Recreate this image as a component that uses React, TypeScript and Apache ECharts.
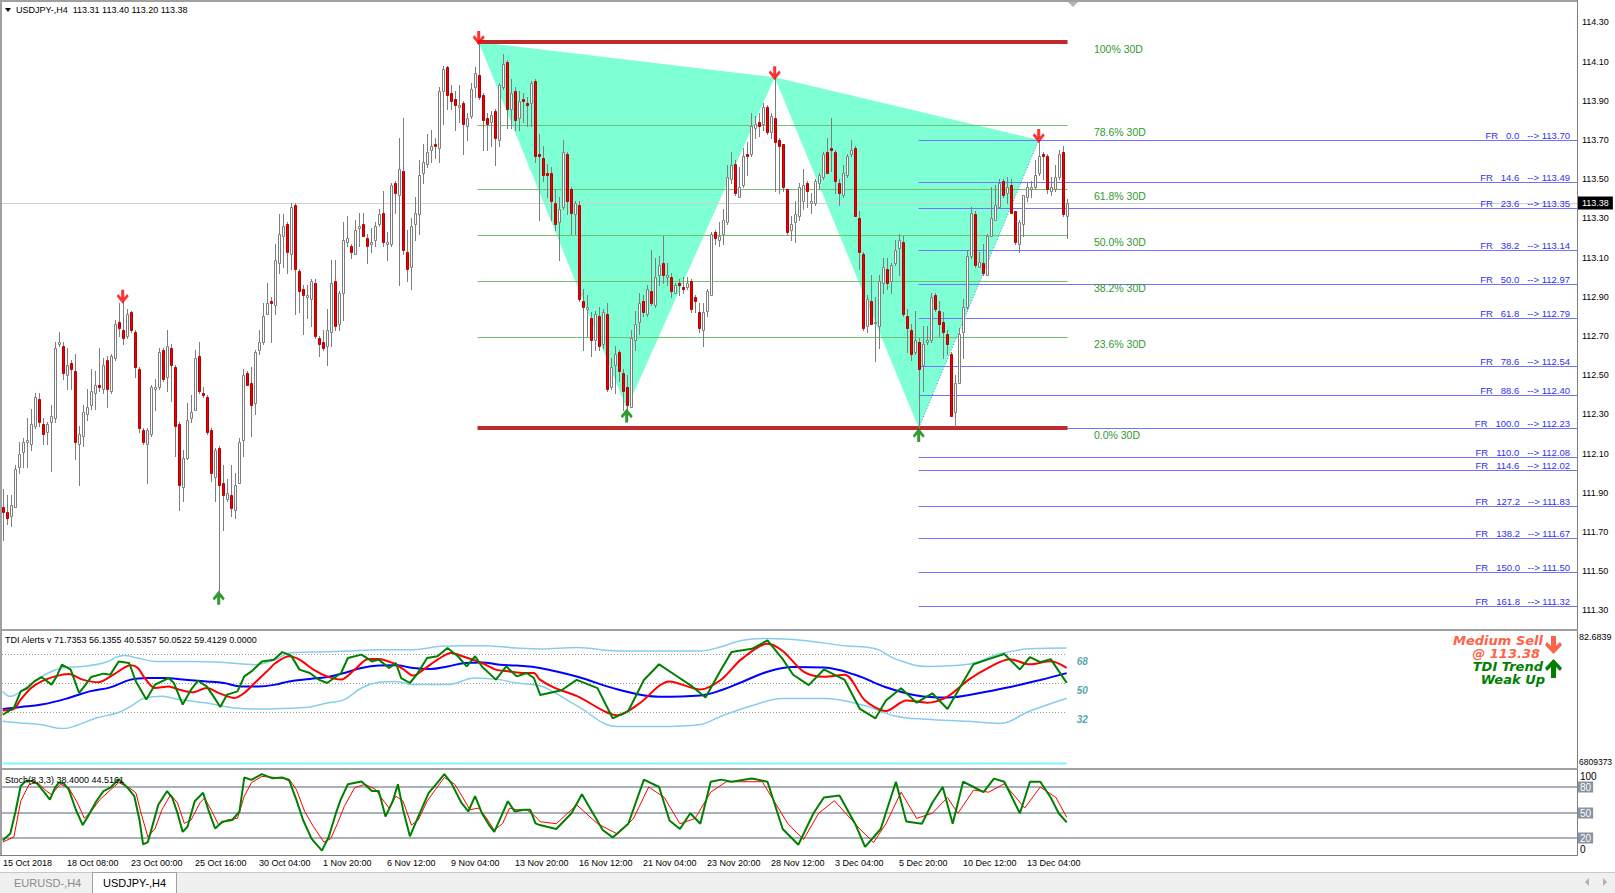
import React, { useEffect, useRef } from "react";
import * as echarts from "echarts";

// ---------- data ----------
const HEADER = "USDJPY-,H4  113.31 113.40 113.20 113.38";
const TDI_TITLE = "TDI Alerts v 71.7353 56.1355 40.5357 50.0522 59.4129 0.0000";
const STOCH_TITLE = "Stoch(8,3,3) 38.4000 44.5161";
const TIME_LABELS = [
  "15 Oct 2018", "18 Oct 08:00", "23 Oct 00:00", "25 Oct 16:00", "30 Oct 04:00",
  "1 Nov 20:00", "6 Nov 12:00", "9 Nov 04:00", "13 Nov 20:00", "16 Nov 12:00",
  "21 Nov 04:00", "23 Nov 20:00", "28 Nov 12:00", "3 Dec 04:00", "5 Dec 20:00",
  "10 Dec 12:00", "13 Dec 04:00",
];
const TIME_LABEL_STEP = 16;

// [open, close, low, high] per H4 bar
const CANDLES: number[][] = [
  [111.83,111.80,111.66,111.92],[111.80,111.77,111.74,111.89],[111.78,111.84,111.73,111.89],[111.83,112.02,111.83,112.04],
  [112.03,112.10,112.00,112.16],[112.11,112.16,112.03,112.18],[112.16,112.17,112.03,112.28],[112.15,112.25,112.12,112.33],
  [112.24,112.39,112.23,112.41],[112.38,112.26,112.24,112.41],[112.25,112.20,112.15,112.28],[112.21,112.25,112.15,112.26],
  [112.26,112.29,112.01,112.35],[112.28,112.64,112.26,112.67],[112.66,112.67,112.65,112.72],[112.65,112.51,112.48,112.67],
  [112.50,112.55,112.43,112.64],[112.56,112.53,112.43,112.58],[112.52,112.16,112.07,112.61],[112.15,112.20,111.94,112.24],
  [112.19,112.31,112.14,112.35],[112.30,112.34,112.27,112.43],[112.35,112.42,112.33,112.53],[112.41,112.45,112.33,112.52],
  [112.45,112.44,112.42,112.64],[112.43,112.55,112.41,112.59],[112.58,112.43,112.34,112.60],[112.42,112.60,112.41,112.61],
  [112.59,112.76,112.58,112.78],[112.77,112.74,112.70,112.87],[112.73,112.69,112.66,112.88],[112.70,112.81,112.69,112.84],
  [112.82,112.73,112.72,112.83],[112.72,112.54,112.49,112.73],[112.53,112.23,112.21,112.54],[112.22,112.16,112.15,112.23],
  [112.15,112.22,111.95,112.23],[112.20,112.44,112.19,112.45],[112.43,112.44,112.32,112.48],[112.44,112.62,112.43,112.64],
  [112.63,112.48,112.47,112.64],[112.49,112.65,112.42,112.73],[112.64,112.55,112.37,112.66],[112.54,112.24,112.09,112.55],
  [112.25,111.94,111.81,112.26],[111.93,112.08,111.86,112.12],[112.08,112.27,112.07,112.36],[112.28,112.31,112.26,112.40],
  [112.32,112.59,112.32,112.63],[112.60,112.42,112.41,112.67],[112.41,112.40,112.39,112.44],[112.39,112.21,112.20,112.40],
  [112.22,112.00,111.96,112.23],[111.98,112.12,111.86,112.13],[112.13,111.94,111.40,112.14],[111.95,111.89,111.71,112.04],
  [111.87,111.90,111.86,111.97],[111.89,111.82,111.78,112.04],[111.81,111.94,111.77,112.00],[111.95,112.16,111.95,112.18],
  [112.17,112.50,112.09,112.53],[112.51,112.45,112.45,112.52],[112.46,112.35,112.19,112.54],[112.36,112.62,112.30,112.63],
  [112.63,112.67,112.61,112.73],[112.67,112.80,112.66,112.87],[112.81,112.87,112.81,112.97],[112.88,112.87,112.67,112.90],
  [112.86,113.09,112.81,113.17],[113.07,113.22,113.02,113.32],[113.21,113.26,113.05,113.32],[113.27,113.13,113.02,113.28],
  [113.12,113.36,113.04,113.38],[113.37,113.04,112.81,113.38],[113.03,112.93,112.82,113.04],[112.94,112.91,112.71,112.96],
  [112.90,112.91,112.79,112.96],[112.89,112.98,112.75,112.99],[112.97,112.70,112.69,112.99],[112.69,112.66,112.60,112.70],
  [112.67,112.64,112.63,112.73],[112.65,112.73,112.55,112.84],[112.72,112.97,112.65,113.09],[112.98,112.75,112.73,113.09],
  [112.76,112.92,112.73,112.93],[112.92,113.19,112.78,113.28],[113.18,113.20,113.16,113.31],[113.16,113.13,113.10,113.17],
  [113.12,113.24,113.12,113.29],[113.25,113.26,113.16,113.33],[113.27,113.21,113.21,113.33],[113.20,113.16,113.07,113.22],
  [113.17,113.18,113.13,113.25],[113.19,113.26,113.16,113.28],[113.27,113.32,113.26,113.35],[113.33,113.18,113.16,113.44],
  [113.17,113.18,113.09,113.23],[113.17,113.47,113.16,113.48],[113.48,113.43,113.33,113.49],[113.42,113.55,112.96,113.71],
  [113.54,113.14,113.12,113.81],[113.13,113.04,112.98,113.24],[113.05,113.26,112.94,113.30],[113.27,113.33,113.19,113.41],
  [113.32,113.52,113.22,113.60],[113.53,113.59,113.48,113.68],[113.58,113.64,113.56,113.73],[113.65,113.67,113.59,113.75],
  [113.68,113.67,113.61,113.71],[113.66,113.95,113.59,113.97],[113.95,114.06,113.78,114.08],[114.07,113.93,113.86,114.08],
  [113.94,113.90,113.86,113.98],[113.91,113.88,113.75,113.95],[113.87,113.88,113.79,113.98],[113.89,113.78,113.63,113.90],
  [113.77,113.81,113.70,113.84],[113.82,113.96,113.81,113.99],[113.97,114.04,113.92,114.07],[114.03,113.92,113.91,114.20],
  [113.93,113.80,113.65,113.94],[113.81,113.78,113.65,113.84],[113.79,113.83,113.67,113.85],[113.85,113.71,113.57,113.86],
  [113.70,113.98,113.67,113.99],[113.97,114.09,113.96,114.14],[114.10,113.86,113.76,114.11],[113.86,113.94,113.76,114.01],
  [113.95,113.80,113.75,113.97],[113.81,113.90,113.75,113.95],[113.91,113.90,113.79,113.94],[113.89,113.88,113.77,113.92],
  [113.89,113.99,113.77,114.00],[114.00,113.62,113.59,114.01],[113.63,113.62,113.29,113.73],[113.61,113.52,113.49,113.67],
  [113.53,113.52,113.41,113.58],[113.53,113.39,113.29,113.56],[113.38,113.27,113.24,113.45],[113.28,113.35,113.09,113.41],
  [113.36,113.64,113.35,113.70],[113.63,113.39,113.32,113.64],[113.45,113.33,113.22,113.46],[113.32,113.38,113.22,113.39],
  [113.37,112.89,112.88,113.39],[112.88,112.85,112.63,112.94],[112.84,112.85,112.70,112.91],[112.79,112.68,112.60,112.82],
  [112.68,112.81,112.63,112.83],[112.80,112.65,112.63,112.85],[112.66,112.82,112.64,112.84],[112.81,112.43,112.42,112.87],
  [112.44,112.54,112.43,112.59],[112.55,112.61,112.41,112.65],[112.62,112.52,112.47,112.63],[112.51,112.42,112.32,112.53],
  [112.44,112.35,112.33,112.50],[112.34,112.69,112.34,112.73],[112.68,112.76,112.63,112.83],[112.77,112.87,112.71,112.92],
  [112.88,112.82,112.80,112.91],[112.81,112.94,112.80,112.96],[112.93,112.87,112.86,113.14],[112.86,113.00,112.85,113.10],
  [113.01,113.06,112.96,113.11],[113.07,113.01,112.97,113.21],[113.00,113.01,112.96,113.07],[113.00,112.93,112.90,113.02],
  [112.92,112.96,112.92,112.97],[112.97,112.96,112.91,112.99],[112.95,112.94,112.92,113.00],[112.95,112.97,112.94,113.00],
  [112.98,112.84,112.82,112.99],[112.90,112.88,112.82,112.91],[112.82,112.74,112.72,112.87],[112.73,112.82,112.65,112.87],
  [112.83,112.93,112.80,112.94],[112.91,113.22,112.91,113.23],[113.23,113.20,113.17,113.24],[113.19,113.21,113.16,113.28],
  [113.22,113.29,113.17,113.35],[113.28,113.51,113.27,113.57],[113.50,113.57,113.48,113.64],[113.58,113.43,113.42,113.60],
  [113.41,113.46,113.41,113.56],[113.47,113.62,113.46,113.66],[113.63,113.62,113.52,113.69],[113.63,113.77,113.62,113.84],
  [113.76,113.78,113.71,113.82],[113.79,113.77,113.72,113.84],[113.78,113.87,113.75,113.89],[113.87,113.74,113.73,113.88],
  [113.74,113.82,113.71,113.84],[113.81,113.69,113.44,114.02],[113.70,113.67,113.43,113.71],[113.68,113.46,113.44,113.68],
  [113.45,113.23,113.22,113.45],[113.24,113.27,113.19,113.31],[113.28,113.32,113.18,113.39],[113.31,113.46,113.29,113.48],
  [113.39,113.47,113.35,113.55],[113.48,113.44,113.36,113.49],[113.38,113.39,113.33,113.43],[113.38,113.49,113.37,113.50],
  [113.48,113.52,113.45,113.53],[113.51,113.63,113.50,113.64],[113.64,113.53,113.53,113.71],[113.66,113.65,113.54,113.81],
  [113.64,113.49,113.43,113.65],[113.48,113.43,113.37,113.50],[113.42,113.53,113.41,113.57],[113.52,113.62,113.51,113.63],
  [113.63,113.65,113.62,113.70],[113.66,113.31,113.31,113.67],[113.30,113.13,113.04,113.34],[113.12,112.74,112.73,113.13],
  [112.75,112.89,112.72,112.91],[112.88,112.76,112.76,113.01],[112.77,112.77,112.57,112.90],[112.75,112.98,112.64,113.01],
  [112.97,113.05,112.92,113.10],[113.04,112.97,112.94,113.10],[112.98,113.06,112.92,113.07],[113.07,113.14,113.06,113.19],
  [113.15,113.19,113.01,113.22],[113.18,112.81,112.80,113.21],[112.80,112.74,112.62,112.84],[112.73,112.61,112.58,112.76],
  [112.62,112.68,112.61,112.83],[112.67,112.53,112.23,112.69],[112.55,112.66,112.42,112.75],[112.67,112.68,112.66,112.75],
  [112.68,112.90,112.67,112.92],[112.91,112.84,112.83,112.92],[112.83,112.76,112.70,112.88],[112.77,112.72,112.59,112.82],
  [112.71,112.66,112.61,112.73],[112.61,112.29,112.29,112.62],[112.31,112.46,112.24,112.50],[112.46,112.71,112.46,112.74],
  [112.72,112.85,112.59,112.89],[112.85,113.11,112.84,113.14],[113.11,113.33,113.10,113.36],[113.32,113.06,113.05,113.34],
  [113.05,113.08,113.05,113.13],[113.07,113.02,113.01,113.17],[113.01,113.21,113.01,113.22],[113.21,113.30,113.21,113.46],
  [113.29,113.37,113.29,113.47],[113.36,113.48,113.36,113.50],[113.49,113.42,113.41,113.50],[113.43,113.46,113.38,113.51],
  [113.47,113.33,113.33,113.50],[113.34,113.18,113.17,113.34],[113.17,113.28,113.13,113.29],[113.27,113.42,113.21,113.42],
  [113.41,113.46,113.39,113.48],[113.45,113.46,113.41,113.49],[113.46,113.52,113.45,113.60],[113.53,113.62,113.52,113.70],
  [113.63,113.62,113.50,113.64],[113.62,113.45,113.43,113.63],[113.44,113.46,113.42,113.51],[113.45,113.51,113.44,113.57],
  [113.51,113.63,113.50,113.65],[113.64,113.32,113.31,113.67],[113.31,113.38,113.20,113.40],
];
const BID = 113.38;

// 30-day range retracement (green) and fib projection (blue)
const FIB30_HIGH = 114.2;
const FIB30_LOW = 112.23;
const FIB30_LEVELS = [78.6, 61.8, 50.0, 38.2, 23.6];
const FIB30_LABELS = [100, 78.6, 61.8, 50.0, 38.2, 23.6, 0];
const FIB30_FROM = 118.7;
const FIB30_TO = 266.2;
const FIB30_LABEL_AT = 272.8;
const FR_HIGH = 113.7;
const FR_LOW = 112.23;
const FR_LEVELS = [0, 14.6, 23.6, 38.2, 50.0, 61.8, 78.6, 88.6, 100.0, 110.0, 114.6, 127.2, 138.2, 150.0, 161.8];
const FR_FROM = 229;

// zigzag pattern pivots [bar, price]
const PATTERN = [[119, 114.2], [156, 112.33], [193, 114.02], [229, 112.23], [259, 113.7]];
const TRIANGLES = [[0, 1, 2], [2, 3, 4]];
const SELL_ARROWS = [[30, 112.88], [119, 114.2], [193, 114.02], [259, 113.7]];
const BUY_ARROWS = [[54, 111.4], [156, 112.33], [229, 112.23]];

// TDI buffers [bar, value]
const TDI_GREEN = [[0,30.3],[2.8,34.5],[4.5,44.8],[6.2,46.9],[7.9,51.0],[9.7,53.7],[12.2,49.0],[13.5,54.1],[14.8,61.4],[17,58.3],[19.1,43.8],[20.4,47.9],[22.1,53.7],[25.2,55.8],[26.9,55.2],[29,63.4],[31.6,62.4],[33.3,51.0],[35.9,39.7],[38.1,49.0],[41.5,53.1],[42.8,50.0],[45,36.6],[47.1,45.9],[48.8,51.4],[51,47.9],[52.7,41.7],[54.4,35.1],[56.1,42.8],[58.7,44.8],[60.4,54.1],[62.2,57.2],[64.8,63.4],[67.8,64.5],[69.9,69.2],[72.1,67.0],[74.2,58.3],[76.8,56.2],[79,52.1],[81.1,50.0],[84.6,56.2],[86.3,65.5],[89.7,67.6],[92.3,63.4],[94,64.5],[96.6,59.3],[98.3,62.4],[99.6,53.1],[101.8,50.0],[103.5,55.2],[106.1,65.5],[108.7,66.6],[111.2,71.7],[113.8,66.6],[116,60.3],[118.1,66.6],[119.8,60.3],[123.3,52.1],[125.9,60.3],[128.5,54.1],[131,56.2],[132.8,53.1],[134.4,42.5],[139.7,45.5],[143.5,51.9],[148.7,46.8],[152.5,28.1],[156.4,32.6],[160.3,51.9],[164.1,61.6],[168,55.1],[171.9,48.7],[175.7,41.0],[179.6,58.4],[182.2,69.3],[187.3,71.2],[191.2,76.4],[195,64.8],[197.6,55.1],[201.5,48.7],[205.3,58.4],[210.5,51.9],[214.3,33.9],[218.2,28.1],[220.8,39.1],[224.6,46.8],[228.5,37.8],[232.4,43.6],[236.2,33.9],[240.1,50.6],[242.7,61.6],[246.5,64.8],[250.4,68.0],[254.3,58.4],[256.8,66.1],[259.4,62.9],[262,64.8],[266,50.05]];
const TDI_RED = [[0,33.0],[2.8,33.9],[4.5,39.7],[7.1,46.9],[9.7,51.0],[13.1,54.1],[16.5,55.6],[20,52.1],[23.9,50.4],[27.7,55.2],[32,61.0],[33.8,59.3],[35.5,53.1],[38.1,46.9],[41.5,47.9],[44.1,45.9],[47.5,44.2],[51,46.9],[54.4,43.4],[57.9,40.7],[60.4,43.8],[63,50.0],[66.5,58.3],[68.2,62.4],[71.6,66.6],[74.2,64.5],[77.7,58.3],[81.1,54.1],[84.6,52.1],[88,58.3],[91.4,64.9],[94,64.9],[97.5,62.4],[100.1,58.7],[102.6,54.6],[105.2,58.3],[108.7,64.5],[112.1,68.6],[115.5,66.1],[119.8,62.4],[123.3,58.3],[126.7,57.2],[130.2,56.2],[132.8,56.2],[134.3,52.1],[138,47],[143.5,42],[153.8,30],[159,37],[166.7,51],[174.4,46],[179.6,52],[184.7,64.8],[191.2,74.4],[195,69.9],[200.2,57.1],[205.3,53.9],[210.5,55.1],[215.6,39.1],[220.8,32.6],[225.9,39.1],[231.1,37.8],[236.2,41.6],[241.4,51.9],[246.5,59.6],[251.7,64.8],[256.8,61.6],[262,63.5],[266,59.41]];
const TDI_BLUE = [[0,33.9],[4.5,35.1],[9.7,36.6],[16.5,40.7],[21.7,44.8],[26.9,47.3],[32,52.1],[36.3,53.1],[40.6,53.1],[45,52.1],[51,51.0],[55.3,50.0],[59.6,47.9],[63.9,47.9],[68.2,49.0],[71.6,51.0],[76.8,52.5],[81.1,53.7],[85.4,56.2],[89.7,59.3],[94,60.8],[98.3,61.0],[102.6,59.3],[106.9,58.7],[111.2,60.3],[115.5,62.4],[119.8,62.8],[124.2,61.4],[128.5,60.8],[134.3,59.3],[143.5,54],[153.8,46],[164.1,41.5],[174.4,42.3],[179.6,45.5],[184.7,50.5],[191.2,57],[197.6,60],[205.3,59.6],[213.1,55.1],[220.8,47.4],[228.5,42.3],[236.2,41.0],[243.9,43.6],[251.7,47.4],[259.4,51.9],[266,56.14]];
const TDI_UPPER = [[0,44.8],[1.9,41.7],[4.5,44.8],[7.9,51.0],[11.4,56.2],[14.8,59.3],[20,60.3],[25.2,62.4],[30.3,67.0],[33.8,65.5],[38.1,63.4],[46.7,63.4],[55.3,62.8],[63,61.4],[68.2,64.5],[71.6,68.6],[76.8,69.2],[85.4,69.7],[94,70.7],[102.6,70.7],[109.5,72.8],[115.5,73.2],[119.8,73.2],[128.5,71.7],[134.3,71.1],[143.5,72],[153.8,69.9],[164.1,69.9],[174.4,69.9],[179.6,72.5],[184.7,76.4],[191.2,77.6],[200.2,76.4],[210.5,73.1],[218.2,71.2],[223.3,64.8],[231.1,60.3],[241.4,61.6],[249.1,68.0],[256.8,71.2],[266,71.74]];
const TDI_LOWER = [[0,26.2],[4.5,25.2],[9.7,24.1],[15.2,21.7],[18.3,23.5],[23.4,28.3],[28.6,31.4],[32,35.5],[35.5,40.7],[39.8,41.7],[44.1,39.7],[51,37.6],[57.9,34.5],[64.8,33.9],[73.4,34.5],[76.8,35.1],[81.1,37.6],[85.4,39.7],[89.7,46.9],[94,50.4],[98.3,51.0],[102.6,49.0],[111.2,49.0],[118.1,53.1],[124.2,52.1],[128.5,50.0],[134.3,48.3],[138,44],[143.5,36],[153.8,23.0],[164.1,23.0],[174.4,24.3],[179.6,29.4],[187.3,35.9],[195,40.4],[205.3,40.4],[215.6,35.9],[223.3,29.4],[231.1,27.5],[241.4,26.2],[249.1,24.9],[256.8,32.6],[266,40.54]];
const TDI_BASE_LEVEL = [[0, 0], [266, 0]];
const TDI_LEVELS = [68, 50, 32];
const TDI_MAX_LABEL = "82.6839";
const TDI_MIN_LABEL = "6809373";

// Stochastic [bar, value]
const STOCH_K = [[0,17.2],[1.9,25.2],[3.2,51.2],[4.5,81.2],[5.8,87.2],[7.5,87.2],[8.8,83.2],[10.5,73.2],[11.8,65.2],[13.1,79.2],[14,85.2],[15.3,84.0],[16.5,77.2],[18.3,53.2],[20,35.2],[21.3,45.2],[23.4,63.2],[25.2,75.2],[26.9,79.2],[29,89.2],[31.2,79.2],[32.9,69.2],[34.2,41.2],[35.1,12.4],[36.3,15.2],[37.6,37.2],[38.9,59.2],[41.1,75.2],[42.4,67.2],[43.7,49.2],[45,27.2],[46.2,33.2],[48,63.2],[50.1,73.2],[51.4,53.2],[53.1,31.2],[54.9,39.2],[57.4,41.2],[59.2,51.2],[60.4,91.2],[62.2,88.4],[64.8,95.2],[67.3,90.4],[69.9,91.2],[71.6,88.0],[73.4,65.2],[75.1,41.2],[77.2,19.2],[79.8,5.2],[81.5,21.2],[83.3,49.2],[84.5,65.2],[86.3,83.2],[89.7,86.4],[92.3,75.2],[94,75.2],[95.7,45.2],[97.5,63.2],[98.8,83.2],[100.1,53.2],[101.8,22.0],[103.9,45.2],[106.5,73.2],[108.7,85.2],[110.4,95.2],[112.1,85.2],[114.7,61.2],[116.4,51.2],[118.1,69.2],[119.8,49.2],[121.6,35.2],[122.9,27.2],[124.6,45.2],[126.3,63.2],[128,51.2],[130.2,53.2],[131.9,53.2],[133.2,37.2],[134.3,35.2],[138.4,30.6],[142.2,49.1],[144.8,71.4],[150,29.4],[152.5,20.7],[156.4,36.8],[160.3,88.7],[164.1,80.0],[166.7,40.5],[169.3,30.6],[171.9,49.1],[174.4,36.8],[177,86.2],[179.6,88.7],[182.2,86.2],[187.3,89.9],[191.2,86.2],[195,30.6],[198.9,12.1],[202.7,49.1],[205.3,67.7],[209.2,70.1],[213.1,36.8],[215.6,9.6],[219.5,30.6],[223.3,86.2],[225.9,39.3],[229.8,36.8],[232.4,61.5],[235,80.0],[237.5,36.8],[240.1,86.2],[242.7,80.0],[245.2,73.9],[247.8,89.9],[250.4,86.2],[254.3,49.1],[256.8,86.2],[259.4,86.2],[262,67.7],[264,49.1],[266,38.4]];
const STOCH_D = [[0,15.2],[2.8,21.2],[4.5,63.2],[6.6,83.2],[8.8,85.2],[10.9,75.2],[12.2,71.2],[14.4,83.2],[16.5,79.2],[18.7,61.2],[20.4,43.2],[22.1,51.2],[24.3,65.2],[26.9,76.4],[29,85.2],[31.6,79.2],[33.3,73.2],[34.6,49.2],[36.3,21.2],[38.1,31.2],[39.8,53.2],[42,71.2],[43.7,61.2],[45.4,37.2],[47.1,41.2],[49.3,61.2],[50.5,67.2],[52.3,51.2],[54,35.2],[56.1,41.2],[58.7,43.2],[60.4,69.2],[62.2,85.2],[64.8,92.4],[68.2,91.2],[71.6,89.2],[73.4,77.2],[75.5,51.2],[77.7,33.2],[80.3,15.2],[82,19.2],[83.7,37.2],[85.4,57.2],[88,79.2],[90.6,83.2],[93.2,77.2],[95.3,63.2],[96.6,55.2],[98.3,69.2],[100.1,63.2],[102.2,35.2],[103.9,41.2],[106.1,63.2],[108.2,77.2],[110.4,91.2],[113,83.2],[115.1,67.2],[116.8,53.2],[119,55.2],[120.7,45.2],[122.9,29.2],[125,37.2],[126.7,55.2],[128.5,53.2],[131,53.2],[133.2,45.2],[134.3,39.2],[138.4,36.8],[143.5,59.0],[148.7,36.8],[153.8,24.5],[157.7,43.0],[161.5,80.0],[165.4,67.7],[169.3,36.8],[173.1,43.0],[177,73.9],[180.9,86.2],[189.9,86.2],[196.3,36.8],[200.2,18.3],[204,49.1],[207.9,63.9],[214.3,30.6],[217.7,14.6],[220.8,36.8],[224.6,73.9],[228.5,43.0],[232.4,49.1],[236.2,67.7],[238.8,49.1],[242.7,76.3],[246.5,73.9],[250.4,83.8],[255.5,55.3],[259.4,80.0],[263.3,67.7],[266,44.5]];
const STOCH_LEVELS = [80, 50, 20];

// ---------- layout ----------
const W = 1615;
const H = 893;
const PLOT_L = 2;
const PLOT_W = 1575;
const PX_PER_BAR = 4;
const X_MIN = -0.175;
const X_MAX = X_MIN + PLOT_W / PX_PER_BAR;
const FONT = '"Liberation Sans", Arial, sans-serif';
const BOLD_FONT = '"DejaVu Sans", "Liberation Sans", sans-serif';

const txt = (text: string, x: number, y: number, o: any = {}) => ({
  type: "text",
  x,
  y,
  z: 200,
  silent: true,
  style: {
    text,
    fill: o.fill || "#000",
    font: o.font || `9px ${FONT}`,
    align: o.align || "left",
    textAlign: o.align || "left",
    verticalAlign: o.va || "middle",
    textVerticalAlign: o.va || "middle",
  },
});

const crisp = (v: number) => Math.round(v) + 0.5;

const App: React.FC = () => {
  const ref = useRef<HTMLDivElement>(null);

  useEffect(() => {
    document.body.style.margin = "0";
    if (!ref.current) return;
    const chart = echarts.init(ref.current, undefined, { renderer: "svg" });

    const segs = (rows: number[][], color: string, width: number, z: number, grid = 0, dash?: number[]) => ({
      type: "custom",
      xAxisIndex: grid,
      yAxisIndex: grid,
      z,
      silent: true,
      data: rows,
      encode: { x: [0, 1], y: 2 },
      renderItem: (_p: any, api: any) => {
        const a = api.coord([api.value(0), api.value(2)]);
        const b = api.coord([api.value(1), api.value(2)]);
        const y = width % 2 === 1 ? crisp(a[1]) : Math.round(a[1]);
        return {
          type: "line",
          shape: { x1: a[0], y1: y, x2: b[0], y2: y },
          style: { stroke: color, lineWidth: width, lineDash: dash },
        };
      },
    });

    const textSeries = (rows: any[], grid: number, build: (p: number[], row: any) => any, z = 20) => ({
      type: "custom",
      xAxisIndex: grid,
      yAxisIndex: grid,
      z,
      silent: true,
      clip: false,
      data: rows.map((r: any) => [r[0], r[1]]),
      renderItem: (p: any, api: any) => {
        const pt = api.coord([api.value(0), api.value(1)]);
        return build(pt, rows[p.dataIndex]);
      },
    });

    const ttext = (text: string, x: number, y: number, fill: string, font: string, align: string, va: string, extra: any = {}) => ({
      type: "text",
      x,
      y,
      style: { text, fill, font, align, textAlign: align, verticalAlign: va, textVerticalAlign: va, ...extra },
    });

    const frPrice = (lv: number) => FR_HIGH - (lv / 100) * (FR_HIGH - FR_LOW);
    const fibPrice = (lv: number) => FIB30_LOW + (lv / 100) * (FIB30_HIGH - FIB30_LOW);

    const downArrow = "path://M4.5,0 L7.5,0 L7.5,7 L10.5,4 L12,6 L6,13 L0,6 L1.5,4 L4.5,7 Z";
    const upArrow = "path://M6,0 L12,7 L10.5,9 L7.5,6 L7.5,13 L4.5,13 L4.5,6 L1.5,9 L0,7 Z";

    const lineSeries = (data: number[][], grid: number, color: string, width: number, z: number, smooth: number | boolean = false) => ({
      type: "line",
      xAxisIndex: grid,
      yAxisIndex: grid,
      data,
      symbol: "none",
      smooth,
      z,
      silent: true,
      lineStyle: { color, width },
    });

    const option: any = {
      animation: false,
      backgroundColor: "#ffffff",
      grid: [
        { left: PLOT_L, top: 2, width: PLOT_W, height: 628 },
        { left: PLOT_L, top: 631, width: PLOT_W, height: 137 },
        { left: PLOT_L, top: 770, width: PLOT_W, height: 85 },
      ],
      xAxis: [0, 1, 2].map((g) => ({
        type: "value",
        gridIndex: g,
        min: X_MIN,
        max: X_MAX,
        show: false,
        splitLine: { show: false },
      })),
      yAxis: [
        {
          type: "value",
          gridIndex: 0,
          position: "right",
          min: 111.2,
          max: 114.404,
          interval: 0.1,
          splitLine: { show: false },
          axisLine: { show: false },
          axisTick: { show: false },
          axisLabel: {
            show: true,
            margin: 5,
            color: "#000",
            fontSize: 9,
            fontFamily: FONT,
            formatter: (v: number) => (Math.round(v * 10) % 2 === 1 ? v.toFixed(2) : ""),
          },
        },
        { type: "value", gridIndex: 1, min: -2.76, max: 82.28, show: false, splitLine: { show: false } },
        { type: "value", gridIndex: 2, min: 0, max: 100, show: false, splitLine: { show: false } },
      ],
      series: [
        // pattern fill
        {
          type: "custom",
          xAxisIndex: 0,
          yAxisIndex: 0,
          z: 1,
          silent: true,
          data: TRIANGLES.map((t) => [PATTERN[t[0]][0], PATTERN[t[0]][1]]),
          renderItem: (p: any, api: any) => {
            const tri = TRIANGLES[p.dataIndex];
            return {
              type: "polygon",
              shape: { points: tri.map((k) => api.coord(PATTERN[k])) },
              style: { fill: "#7fffd4" },
            };
          },
        },
        // bid line
        segs([[X_MIN, X_MAX, BID]], "#cfcfcf", 1, 2),
        // green 30D retracement lines
        segs(FIB30_LEVELS.map((lv) => [FIB30_FROM, FIB30_TO, fibPrice(lv)]), "#70c070", 1, 3),
        // blue FR projection lines
        segs(FR_LEVELS.map((lv) => [FR_FROM, X_MAX, frPrice(lv)]), "#7272ff", 1, 3),
        // red range lines
        segs([[FIB30_FROM, FIB30_TO, FIB30_HIGH], [FIB30_FROM, FIB30_TO, FIB30_LOW]], "#bf2a2a", 4, 4),
        // dotted pattern leg
        {
          type: "custom",
          xAxisIndex: 0,
          yAxisIndex: 0,
          z: 4,
          silent: true,
          data: [[PATTERN[3][0], PATTERN[3][1]]],
          renderItem: (_p: any, api: any) => {
            const a = api.coord(PATTERN[3]);
            const b = api.coord(PATTERN[4]);
            return {
              type: "line",
              shape: { x1: a[0], y1: a[1], x2: b[0], y2: b[1] },
              style: { stroke: "#4f7dff", lineWidth: 1, lineDash: [1, 2] },
            };
          },
        },
        // candles
        {
          type: "custom",
          xAxisIndex: 0,
          yAxisIndex: 0,
          z: 6,
          silent: true,
          data: CANDLES.map((c, i) => [i, c[0], c[1], c[2], c[3]]),
          encode: { x: 0, y: [1, 2, 3, 4] },
          renderItem: (_p: any, api: any) => {
            const i = api.value(0);
            const o = api.value(1);
            const c = api.value(2);
            const pO = api.coord([i, o]);
            const pC = api.coord([i, c]);
            const pL = api.coord([i, api.value(3)]);
            const pH = api.coord([i, api.value(4)]);
            const cx = Math.round(pO[0]);
            const top = Math.round(Math.min(pO[1], pC[1]));
            const bot = Math.round(Math.max(pO[1], pC[1]));
            const bull = c >= o;
            const hgt = Math.max(bot - top, 1);
            return {
              type: "group",
              children: [
                {
                  type: "line",
                  shape: { x1: cx + 0.5, y1: Math.round(pH[1]), x2: cx + 0.5, y2: Math.round(pL[1]) + 1 },
                  style: { stroke: "#7d7d7d", lineWidth: 1 },
                },
                bull
                  ? {
                      type: "rect",
                      shape: { x: cx - 0.5, y: top + 0.5, width: 2, height: hgt },
                      style: { fill: "#ffffff", stroke: "#7d7d7d", lineWidth: 1 },
                    }
                  : {
                      type: "rect",
                      shape: { x: cx - 0.5, y: top + 0.5, width: 2, height: hgt },
                      style: { fill: "#ee0000", stroke: "#b40000", lineWidth: 1 },
                    },
              ],
            };
          },
        },
        // swing arrows
        {
          type: "scatter",
          xAxisIndex: 0,
          yAxisIndex: 0,
          z: 8,
          silent: true,
          data: SELL_ARROWS,
          symbol: downArrow,
          symbolSize: [12, 14],
          symbolOffset: [0, -4],
          itemStyle: { color: "#ff0000" },
        },
        {
          type: "scatter",
          xAxisIndex: 0,
          yAxisIndex: 0,
          z: 8,
          silent: true,
          data: BUY_ARROWS,
          symbol: upArrow,
          symbolSize: [12, 14],
          symbolOffset: [0, 7],
          itemStyle: { color: "#008000" },
        },
        // 30D labels
        textSeries(
          FIB30_LABELS.map((lv) => [FIB30_LABEL_AT, fibPrice(lv), lv]),
          0,
          (pt, row) => ttext(`${row[2] === 100 ? "100" : row[2].toFixed(1)}% 30D`, pt[0], Math.round(pt[1]) + 1, "#2f9a2f", `10.5px ${FONT}`, "left", "top")
        ),
        // FR labels
        textSeries(
          FR_LEVELS.map((lv) => [X_MAX, frPrice(lv), lv]),
          0,
          (pt, row) =>
            ttext(
              `FR   ${row[2].toFixed(1)}   --> ${frPrice(row[2]).toFixed(2)}`,
              pt[0] - 7,
              Math.round(pt[1]),
              "#2f2ff0",
              `9.5px ${FONT}`,
              "right",
              "bottom"
            )
        ),
        // bid price box
        textSeries([[X_MAX, BID]], 0, (pt) =>
          ttext(BID.toFixed(2), pt[0] + 1, Math.round(pt[1]), "#ffffff", `9px ${FONT}`, "left", "middle", {
            backgroundColor: "#000000",
            padding: [2, 4, 2, 4],
          })
        , 30),
        // TDI
        segs(TDI_LEVELS.map((lv) => [X_MIN, 266, lv]), "#9a9a9a", 1, 2, 1, [1, 2]),
        lineSeries(TDI_BASE_LEVEL, 1, "#7ff5ff", 2, 3),
        lineSeries(TDI_UPPER, 1, "#87ceeb", 1.5, 4, 0.4),
        lineSeries(TDI_LOWER, 1, "#87ceeb", 1.5, 4, 0.4),
        lineSeries(TDI_BLUE, 1, "#0000ff", 2, 5, 0.4),
        lineSeries(TDI_RED, 1, "#ff0000", 2, 6, 0.3),
        lineSeries(TDI_GREEN, 1, "#008000", 2, 7, false),
        textSeries(TDI_LEVELS.map((lv) => [268.5, lv]), 1, (pt, row) =>
          ttext(String(row[1]), pt[0], Math.round(pt[1]) + 7, "#5aa7ad", `italic bold 10px ${FONT}`, "left", "middle")
        ),
        textSeries([[X_MAX, 82.28, TDI_MAX_LABEL, 9], [X_MAX, -2.76, TDI_MIN_LABEL, 8.5]], 1, (pt, row) =>
          ttext(row[2], pt[0] + 2, Math.round(pt[1]) + (row[1] > 50 ? 6 : -6), "#000", `${row[3]}px ${FONT}`, "left", "middle")
        ),
        // Stochastic
        segs(STOCH_LEVELS.map((lv) => [X_MIN, X_MAX, lv]), "#a9b1ba", 2, 2, 2),
        lineSeries(STOCH_D, 2, "#ff0000", 1, 5, false),
        lineSeries(STOCH_K, 2, "#008000", 2, 6, false),
        textSeries(STOCH_LEVELS.map((lv) => [X_MAX, lv]), 2, (pt, row) =>
          ttext(String(row[1]), pt[0] + 1, Math.round(pt[1]), "#ffffff", `10px ${FONT}`, "left", "middle", {
            backgroundColor: "#8793a0",
            padding: [1, 2, 0, 2],
          })
        ),
        textSeries([[X_MAX, 100], [X_MAX, 0]], 2, (pt, row) =>
          ttext(String(row[1]), pt[0] + 3, Math.round(pt[1]) + (row[1] > 50 ? 6 : -6), "#000", `10px ${FONT}`, "left", "middle")
        ),
        // time axis labels
        textSeries(TIME_LABELS.map((t, k) => [k * TIME_LABEL_STEP, 0, t]), 2, (pt, row) =>
          ttext(row[2], Math.round(pt[0]), Math.round(pt[1]) + 3, "#000", `9px ${FONT}`, "left", "top")
        ),
      ],
      graphic: {
        elements: [
          // frame
          { type: "rect", z: 150, silent: true, shape: { x: 0, y: 0, width: 1578, height: 2 }, style: { fill: "#a0a0a0" } },
          { type: "rect", z: 150, silent: true, shape: { x: 0, y: 0, width: 2, height: 856 }, style: { fill: "#a0a0a0" } },
          { type: "rect", z: 150, silent: true, shape: { x: 1577, y: 0, width: 1, height: 856 }, style: { fill: "#808080" } },
          { type: "rect", z: 150, silent: true, shape: { x: 0, y: 629, width: 1578, height: 2 }, style: { fill: "#a0a0a0" } },
          { type: "rect", z: 150, silent: true, shape: { x: 0, y: 768, width: 1578, height: 2 }, style: { fill: "#a0a0a0" } },
          { type: "rect", z: 150, silent: true, shape: { x: 0, y: 855, width: 1578, height: 1 }, style: { fill: "#808080" } },
          { type: "polygon", z: 150, silent: true, shape: { points: [[1068, 2], [1078, 2], [1073, 7]] }, style: { fill: "#b4b4b4" } },
          // header
          { type: "polygon", z: 150, silent: true, shape: { points: [[5, 8], [11, 8], [8, 12]] }, style: { fill: "#000" } },
          txt(HEADER, 16, 10),
          txt(TDI_TITLE, 5, 640),
          txt(STOCH_TITLE, 5, 780),
          // TDI signal box
          txt("Medium Sell", 1543, 640, { fill: "#ff6347", font: `italic bold 13px ${BOLD_FONT}`, align: "right" }),
          txt("@ 113.38", 1540, 653, { fill: "#ff6347", font: `italic bold 13px ${BOLD_FONT}`, align: "right" }),
          {
            type: "polygon", z: 200, silent: true,
            shape: { points: [[1551, 636], [1556, 636], [1556, 646], [1560, 642], [1562, 645], [1553.5, 654], [1545, 645], [1547, 642], [1551, 646]] },
            style: { fill: "#ff6347" },
          },
          txt("TDI Trend", 1543, 666, { fill: "#008000", font: `italic bold 13px ${BOLD_FONT}`, align: "right" }),
          txt("Weak Up", 1545, 679, { fill: "#008000", font: `italic bold 13px ${BOLD_FONT}`, align: "right" }),
          {
            type: "polygon", z: 200, silent: true,
            shape: { points: [[1553.5, 659], [1562, 668], [1560, 671], [1556, 667], [1556, 678], [1551, 678], [1551, 667], [1547, 671], [1545, 668]] },
            style: { fill: "#008000" },
          },
          // tab bar
          { type: "rect", z: 150, silent: true, shape: { x: 0, y: 872, width: W, height: 21 }, style: { fill: "#f0f0f0" } },
          { type: "rect", z: 151, silent: true, shape: { x: 0, y: 872, width: W, height: 1 }, style: { fill: "#c8c8c8" } },
          { type: "rect", z: 152, silent: true, shape: { x: 92.5, y: 872.5, width: 84, height: 21 }, style: { fill: "#ffffff", stroke: "#a0a0a0", lineWidth: 1 } },
          txt("EURUSD-,H4", 14, 883, { fill: "#8a8a8a", font: `11px ${FONT}` }),
          txt("USDJPY-,H4", 103, 883, { fill: "#000", font: `11px ${FONT}` }),
          { type: "polygon", z: 200, silent: true, shape: { points: [[1589, 878], [1589, 886], [1585, 882]] }, style: { fill: "#b0b0b0" } },
          { type: "polygon", z: 200, silent: true, shape: { points: [[1603, 878], [1603, 886], [1607, 882]] }, style: { fill: "#b0b0b0" } },
        ],
      },
    };

    chart.setOption(option);
    return () => chart.dispose();
  }, []);

  return <div ref={ref} style={{ width: W, height: H, position: "absolute", left: 0, top: 0 }} />;
};

export default App;
